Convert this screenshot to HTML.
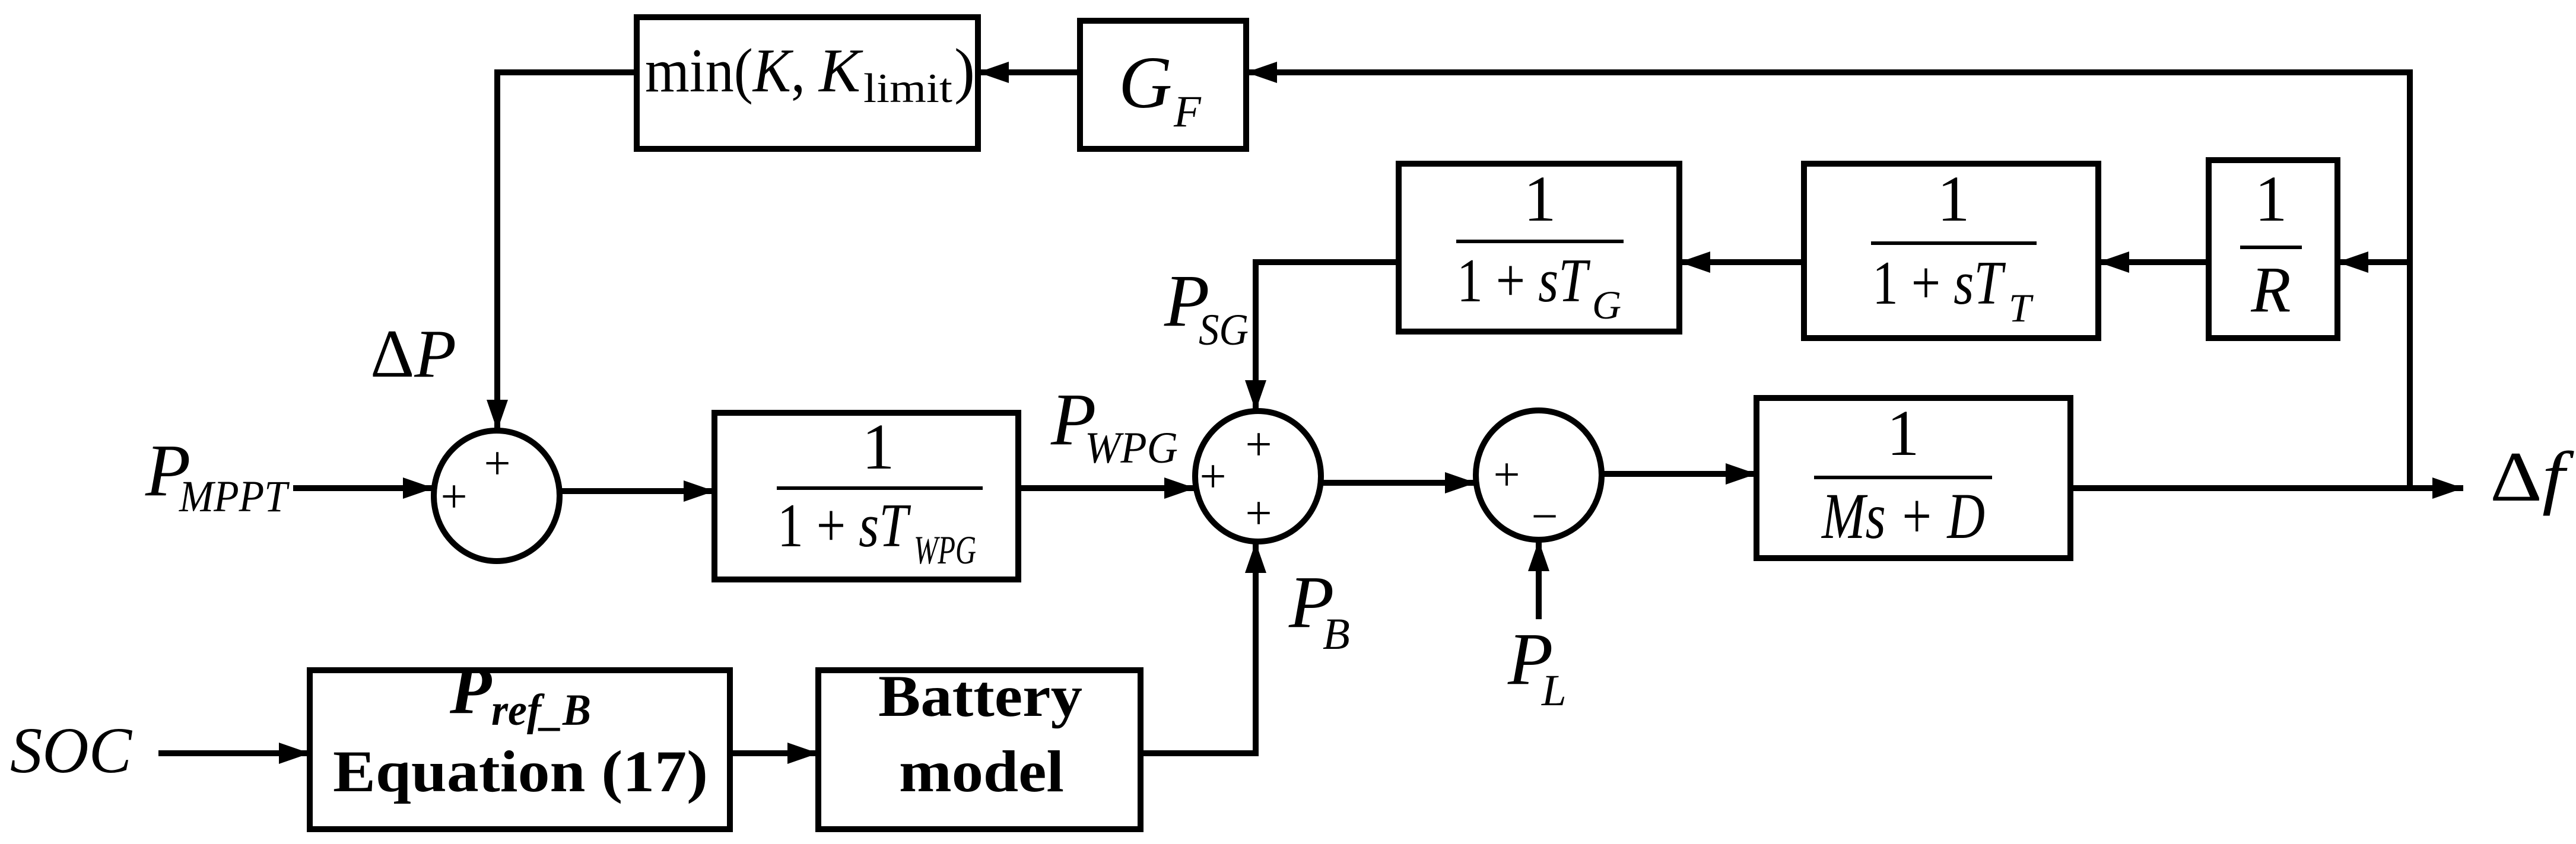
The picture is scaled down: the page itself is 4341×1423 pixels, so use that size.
<!DOCTYPE html>
<html><head><meta charset="utf-8"><style>
html,body{margin:0;padding:0;background:#fff;}
svg{display:block;}
</style></head><body>
<svg width="4341" height="1423" viewBox="0 0 4341 1423" xmlns="http://www.w3.org/2000/svg" font-family="'Liberation Serif','Times New Roman',serif">
<defs>
<marker id="a" markerWidth="52" markerHeight="36" refX="52" refY="18" orient="auto" markerUnits="userSpaceOnUse">
<path d="M0,0 L52,18 L0,36 Z" fill="#000"/>
</marker>
</defs>
<g fill="none" stroke="#000" stroke-width="10">
<rect x="1073" y="29" width="575" height="222"/>
<rect x="1820" y="35" width="280" height="216"/>
<rect x="2357" y="276" width="473" height="283"/>
<rect x="3040" y="276" width="496" height="294"/>
<rect x="3722" y="270" width="217" height="300"/>
<rect x="1204" y="696" width="512" height="281"/>
<rect x="2960" y="671" width="529" height="270"/>
<rect x="522" y="1130" width="708" height="268"/>
<rect x="1379" y="1130" width="543" height="268"/>
<ellipse cx="837" cy="836" rx="106" ry="110"/>
<ellipse cx="2120" cy="803" rx="106" ry="110"/>
<ellipse cx="2593" cy="801" rx="106" ry="109"/>
<polyline points="4061,823 4061,122 2100,122" marker-end="url(#a)"/>
<line x1="1820" y1="122" x2="1648" y2="122" marker-end="url(#a)"/>
<polyline points="1073,122 838,122 838,726" marker-end="url(#a)"/>
<line x1="494" y1="823" x2="731" y2="823" marker-end="url(#a)"/>
<line x1="944" y1="828" x2="1204" y2="828" marker-end="url(#a)"/>
<line x1="1716" y1="823" x2="2014" y2="823" marker-end="url(#a)"/>
<polyline points="2357,442 2116,442 2116,693" marker-end="url(#a)"/>
<line x1="3040" y1="442" x2="2830" y2="442" marker-end="url(#a)"/>
<line x1="3722" y1="442" x2="3536" y2="442" marker-end="url(#a)"/>
<line x1="4061" y1="442" x2="3939" y2="442" marker-end="url(#a)"/>
<line x1="2226" y1="814" x2="2487" y2="814" marker-end="url(#a)"/>
<line x1="2700" y1="799" x2="2960" y2="799" marker-end="url(#a)"/>
<line x1="3489" y1="823" x2="4151" y2="823" marker-end="url(#a)"/>
<line x1="2593" y1="1044" x2="2593" y2="911" marker-end="url(#a)"/>
<polyline points="1922,1270 2116,1270 2116,914" marker-end="url(#a)"/>
<line x1="267" y1="1270" x2="522" y2="1270" marker-end="url(#a)"/>
<line x1="1230" y1="1270" x2="1379" y2="1270" marker-end="url(#a)"/>
</g>
<g stroke="#000" stroke-width="6">
<line x1="1309" y1="823" x2="1656" y2="823"/>
<line x1="2454" y1="407" x2="2736" y2="407"/>
<line x1="3153" y1="410" x2="3432" y2="410"/>
<line x1="3775" y1="417" x2="3879" y2="417"/>
<line x1="3057" y1="805" x2="3357" y2="805"/>
</g>
<g fill="#000">
<text x="1087" y="154" font-size="105" textLength="270" lengthAdjust="spacingAndGlyphs">min(<tspan font-style="italic">K</tspan>,</text>
<text x="1380" y="154" font-size="105" font-style="italic">K</text>
<text x="1455" y="172" font-size="70" textLength="150" lengthAdjust="spacingAndGlyphs">limit</text>
<text x="1608" y="154" font-size="105">)</text>
<text x="1885" y="181" font-size="125" font-style="italic">G</text>
<text x="1978" y="213" font-size="75" font-style="italic">F</text>

<text x="2595" y="372" font-size="110" text-anchor="middle">1</text>
<text x="2455" y="508" font-size="105" textLength="220" lengthAdjust="spacingAndGlyphs">1 + <tspan font-style="italic">sT</tspan></text>
<text x="2683" y="537" font-size="68" font-style="italic">G</text>
<text x="3292" y="372" font-size="110" text-anchor="middle">1</text>
<text x="3155" y="512" font-size="105" textLength="220" lengthAdjust="spacingAndGlyphs">1 + <tspan font-style="italic">sT</tspan></text>
<text x="3385" y="542" font-size="68" font-style="italic">T</text>
<text x="3827" y="372" font-size="110" text-anchor="middle">1</text>
<text x="3827" y="525" font-size="110" font-style="italic" text-anchor="middle">R</text>

<text x="1480" y="790" font-size="110" text-anchor="middle">1</text>
<text x="1310" y="921" font-size="105" textLength="220" lengthAdjust="spacingAndGlyphs">1 + <tspan font-style="italic">sT</tspan></text>
<text x="1540" y="950" font-size="68" font-style="italic" textLength="105" lengthAdjust="spacingAndGlyphs">WPG</text>
<text x="3207" y="767" font-size="110" text-anchor="middle">1</text>
<text x="3070" y="907" font-size="110" font-style="italic" textLength="275" lengthAdjust="spacingAndGlyphs">Ms + D</text>

<text x="245" y="835" font-size="125" font-style="italic">P</text>
<text x="302" y="862" font-size="75" font-style="italic" textLength="182" lengthAdjust="spacingAndGlyphs">MPPT</text>
<text x="624" y="635" font-size="115" textLength="145" lengthAdjust="spacingAndGlyphs">Δ<tspan font-style="italic">P</tspan></text>
<text x="1771" y="749" font-size="125" font-style="italic">P</text>
<text x="1828" y="780" font-size="75" font-style="italic" textLength="157" lengthAdjust="spacingAndGlyphs">WPG</text>
<text x="1962" y="549" font-size="125" font-style="italic">P</text>
<text x="2020" y="581" font-size="75" font-style="italic" textLength="84" lengthAdjust="spacingAndGlyphs">SG</text>
<text x="2172" y="1057" font-size="125" font-style="italic">P</text>
<text x="2229" y="1094" font-size="75" font-style="italic">B</text>
<text x="2541" y="1153" font-size="125" font-style="italic">P</text>
<text x="2598" y="1189" font-size="75" font-style="italic">L</text>
<text x="4196" y="844" font-size="120" textLength="126" lengthAdjust="spacingAndGlyphs">Δ<tspan font-style="italic">f</tspan></text>
<text x="17" y="1302" font-size="110" font-style="italic" textLength="205" lengthAdjust="spacingAndGlyphs">SOC</text>

<text x="758" y="1202" font-size="115" font-style="italic" font-weight="bold">P</text>
<text x="828" y="1222" font-size="75" font-style="italic" font-weight="bold" textLength="168" lengthAdjust="spacingAndGlyphs">ref_B</text>
<text x="561" y="1334" font-size="100" font-weight="bold" textLength="632" lengthAdjust="spacingAndGlyphs">Equation (17)</text>
<text x="1480" y="1207" font-size="100" font-weight="bold" textLength="344" lengthAdjust="spacingAndGlyphs">Battery</text>
<text x="1515" y="1334" font-size="100" font-weight="bold" textLength="278" lengthAdjust="spacingAndGlyphs">model</text>

<g font-size="80">
<text x="838" y="808" text-anchor="middle">+</text>
<text x="765" y="864" text-anchor="middle">+</text>
<text x="2121" y="776" text-anchor="middle">+</text>
<text x="2044" y="830" text-anchor="middle">+</text>
<text x="2121" y="892" text-anchor="middle">+</text>
<text x="2539" y="827" text-anchor="middle">+</text>
<text x="2603" y="897" text-anchor="middle">−</text>
</g>
</g>
</svg>
</body></html>
